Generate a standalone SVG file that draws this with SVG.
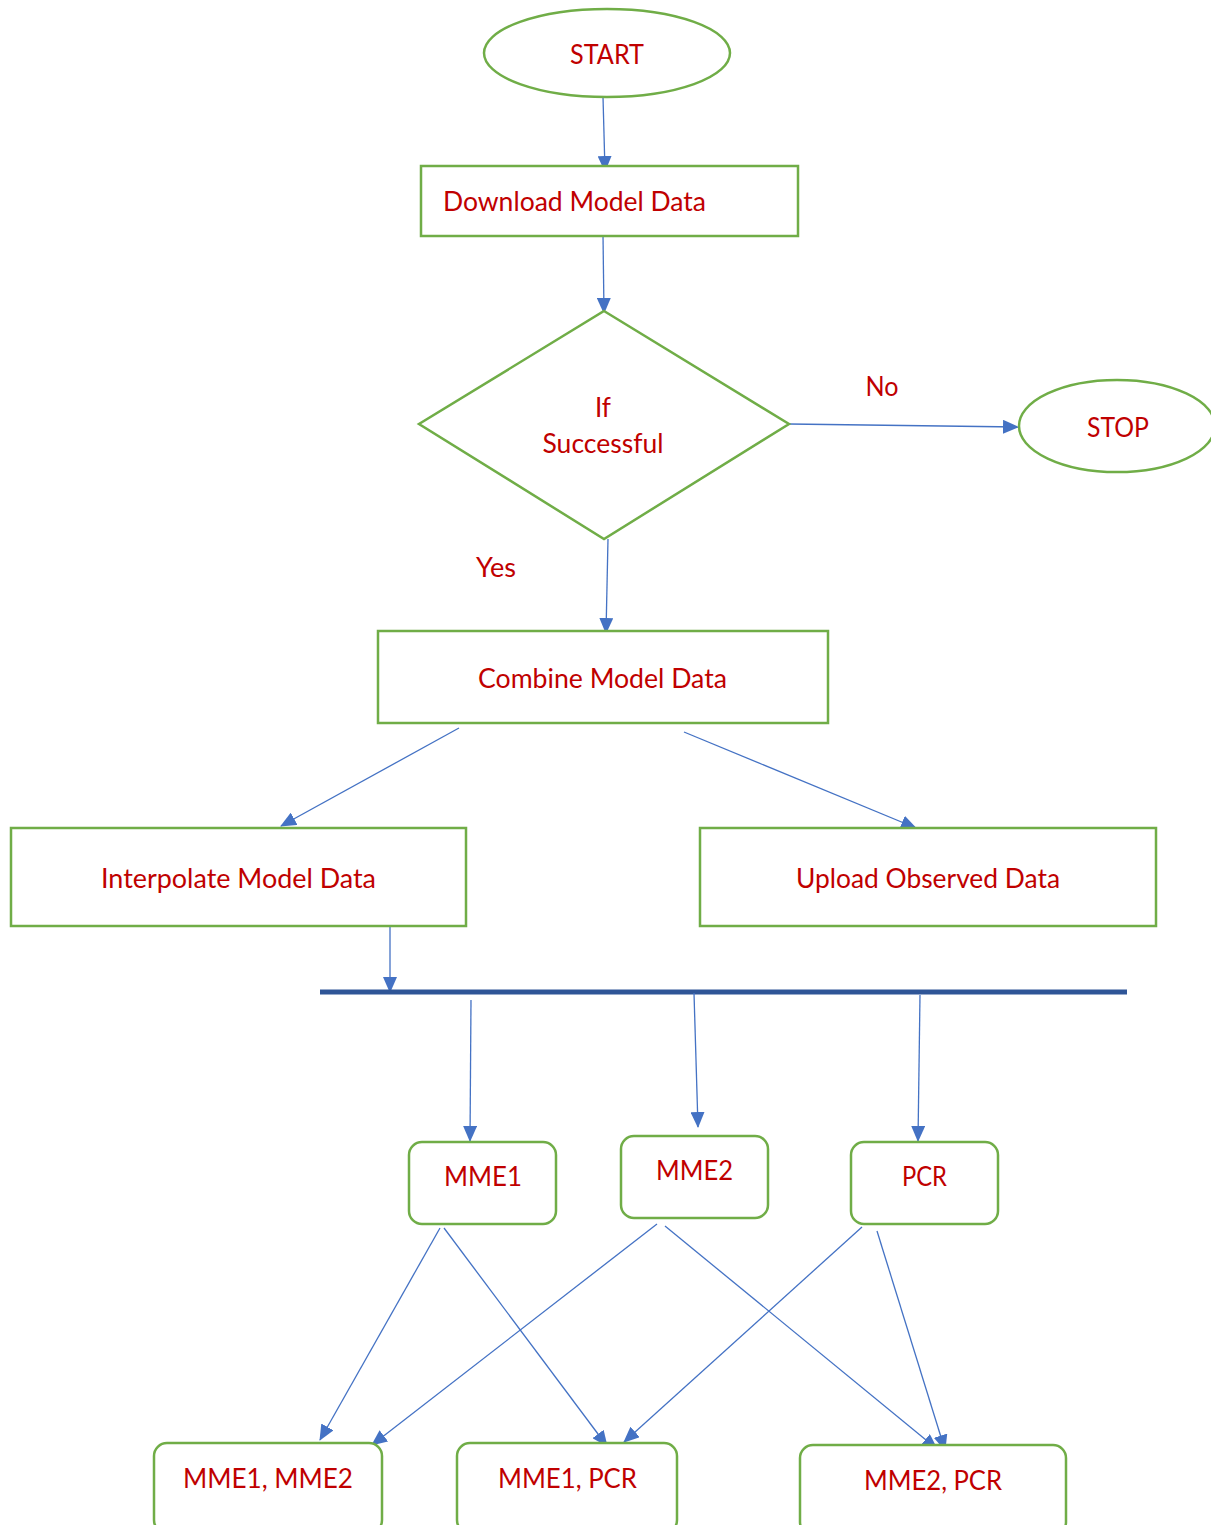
<svg xmlns="http://www.w3.org/2000/svg" width="1211" height="1525" viewBox="0 0 1211 1525">
<style>
.n{fill:#fff;stroke:#70AD47;stroke-width:2.5}
.t{font-family:Lato,"Liberation Sans",sans-serif;font-size:26px;fill:#C00000;text-anchor:middle}
.c{stroke:#4472C4;stroke-width:1.3;fill:none;marker-end:url(#ah)}
</style>
<defs>
<marker id="ah" markerUnits="userSpaceOnUse" markerWidth="16" markerHeight="14" refX="15" refY="7" orient="auto">
<path d="M0,0 L16,7 L0,14 Z" fill="#4472C4"/>
</marker>
</defs>
<rect width="1211" height="1525" fill="#fff"/>
<g id="connectors">
<line class="c" x1="603" y1="97" x2="605" y2="171"/>
<line class="c" x1="603" y1="235" x2="604" y2="313"/>
<line class="c" x1="789" y1="424" x2="1018" y2="427"/>
<line class="c" x1="608" y1="539" x2="606" y2="633"/>
<line class="c" x1="459" y1="728" x2="281" y2="826"/>
<line class="c" x1="684" y1="732" x2="916" y2="828"/>
<line class="c" x1="390" y1="926" x2="390" y2="992"/>
<line x1="320" y1="992" x2="1127" y2="992" stroke="#2F5597" stroke-width="5"/>
<line class="c" x1="471" y1="1000" x2="470" y2="1141"/>
<line class="c" x1="694" y1="993" x2="698" y2="1127"/>
<line class="c" x1="920" y1="995" x2="918" y2="1141"/>
<line class="c" x1="440" y1="1228" x2="320" y2="1440"/>
<line class="c" x1="444" y1="1228" x2="607" y2="1446"/>
<line class="c" x1="657" y1="1224" x2="372" y2="1445"/>
<line class="c" x1="665" y1="1226" x2="937" y2="1449"/>
<line class="c" x1="862" y1="1227" x2="624" y2="1442"/>
<line class="c" x1="877" y1="1231" x2="945" y2="1450"/>
</g>
<g id="start">
<ellipse class="n" cx="607" cy="53" rx="123" ry="44"/>
<text class="t" x="607" y="64" textLength="74" lengthAdjust="spacingAndGlyphs">START</text>
</g>
<g id="download">
<rect class="n" x="421" y="166" width="377" height="70"/>
<text class="t" x="574.5" y="211" textLength="263" lengthAdjust="spacingAndGlyphs">Download Model Data</text>
</g>
<g id="decision">
<polygon class="n" points="604,311 789,424 604,539 419,424"/>
<text class="t" x="603" y="417">If</text>
<text class="t" x="603" y="453" textLength="121" lengthAdjust="spacingAndGlyphs">Successful</text>
</g>
<g id="label-no"><text class="t" x="882" y="396" textLength="33" lengthAdjust="spacingAndGlyphs">No</text></g>
<g id="label-yes"><text class="t" x="496" y="577" textLength="40" lengthAdjust="spacingAndGlyphs">Yes</text></g>
<g id="stop">
<ellipse class="n" cx="1117" cy="426" rx="98" ry="46"/>
<text class="t" x="1118" y="437" textLength="62" lengthAdjust="spacingAndGlyphs">STOP</text>
</g>
<g id="combine">
<rect class="n" x="378" y="631" width="450" height="92"/>
<text class="t" x="602.5" y="688" textLength="249" lengthAdjust="spacingAndGlyphs">Combine Model Data</text>
</g>
<g id="interpolate">
<rect class="n" x="11" y="828" width="455" height="98"/>
<text class="t" x="238.5" y="888" textLength="275" lengthAdjust="spacingAndGlyphs">Interpolate Model Data</text>
</g>
<g id="upload">
<rect class="n" x="700" y="828" width="456" height="98"/>
<text class="t" x="928" y="888" textLength="264" lengthAdjust="spacingAndGlyphs">Upload Observed Data</text>
</g>
<g id="mme1">
<rect class="n" x="409" y="1142" width="147" height="82" rx="13"/>
<text class="t" x="483" y="1186" textLength="78" lengthAdjust="spacingAndGlyphs">MME1</text>
</g>
<g id="mme2">
<rect class="n" x="621" y="1136" width="147" height="82" rx="13"/>
<text class="t" x="694.5" y="1180" textLength="77" lengthAdjust="spacingAndGlyphs">MME2</text>
</g>
<g id="pcr">
<rect class="n" x="851" y="1142" width="147" height="82" rx="13"/>
<text class="t" x="924.5" y="1186" textLength="45" lengthAdjust="spacingAndGlyphs">PCR</text>
</g>
<g id="mme1-mme2">
<rect class="n" x="154" y="1443" width="228" height="90" rx="13"/>
<text class="t" x="268" y="1488" textLength="170" lengthAdjust="spacingAndGlyphs">MME1, MME2</text>
</g>
<g id="mme1-pcr">
<rect class="n" x="457" y="1443" width="220" height="90" rx="13"/>
<text class="t" x="567.5" y="1488" textLength="139" lengthAdjust="spacingAndGlyphs">MME1, PCR</text>
</g>
<g id="mme2-pcr">
<rect class="n" x="800" y="1445" width="266" height="90" rx="13"/>
<text class="t" x="933" y="1490" textLength="138" lengthAdjust="spacingAndGlyphs">MME2, PCR</text>
</g>
</svg>
